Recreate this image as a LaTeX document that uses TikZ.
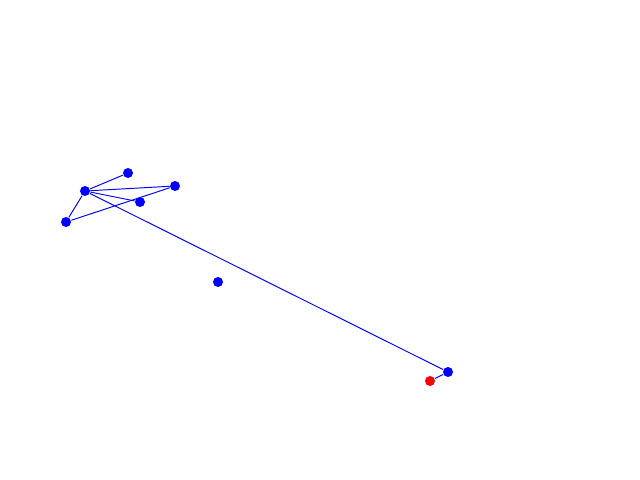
\documentclass[tikz,border=0pt]{standalone}
\usepackage{tikz}

\begin{document}
\begin{tikzpicture}[x=0.02cm, y=-0.02cm, line width=0.55pt,
main/.style = {circle, fill=blue, inner sep=0pt, minimum size=0.2cm},
hot/.style = {circle, fill=red, inner sep=0pt, minimum size=0.2cm},
el/.style = {draw=blue}]
\useasboundingbox (0,0) rectangle (640,480);
\node[main] (1) at (85,191) {};
\node[main] (2) at (128,173) {};
\node[main] (3) at (175,186) {};
\node[main] (4) at (140,202) {};
\node[main] (5) at (66,222) {};
\node[main] (6) at (218,282) {};
\node[main] (7) at (448,372) {};
\node[hot] (8) at (430,381) {};

\path[el]
(1) edge (2)
(1) edge (3)
(1) edge (4)
(1) edge (5)
(5) edge (3)
(1) edge (7)
(7) edge (8)
;
\end{tikzpicture}
\end{document}
